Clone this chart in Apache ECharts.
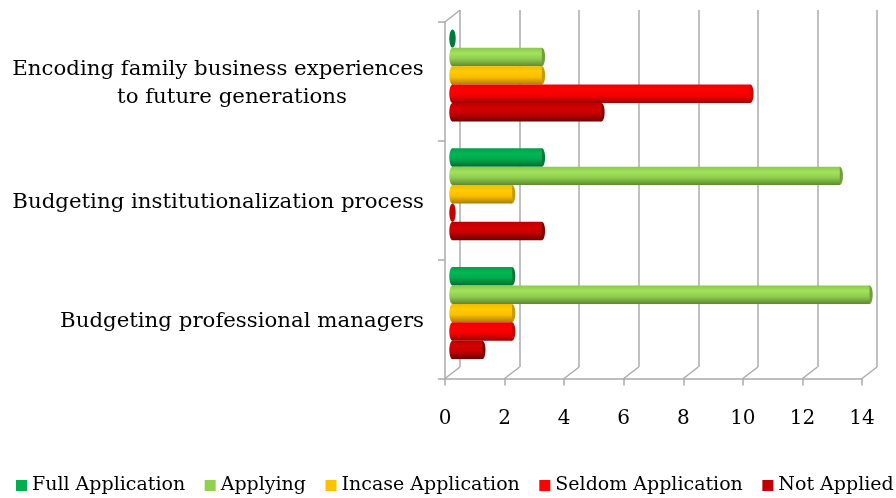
<!DOCTYPE html>
<html>
<head>
<meta charset="utf-8">
<style>html,body{margin:0;padding:0;background:#fff}#c{width:896px;height:498px}</style>
<script src="https://cdn.jsdelivr.net/npm/echarts@6/dist/echarts.min.js"></script>
</head>
<body>
<div id="c"></div>
<script>
const categories = ['Encoding family business experiences\nto future generations', 'Budgeting institutionalization process', 'Budgeting professional managers'];
const fullApplication = [0, 3, 2];
const applying = [3, 13, 14];
const incaseApplication = [3, 2, 2];
const seldomApplication = [10, 0, 2];
const notApplied = [5, 3, 1];
const xTicks = [0, 2, 4, 6, 8, 10, 12, 14];

const FONT = '"DejaVu Serif", serif';
const GRAY = '#ababab';
const DX = 15, DY = 11.5, BAR = 18.4, PITCH = 18.4;

const defs = [
  {name: 'Full Application', data: fullApplication, color: '#00B050', stops: ['#0a9a4a', '#00B854', '#00a84c', '#006e32'], cap: '#007a38'},
  {name: 'Applying', data: applying, color: '#92D050', stops: ['#8cc84c', '#a2e35c', '#8fcc4e', '#5c8a30'], cap: '#6f9f3c'},
  {name: 'Incase Application', data: incaseApplication, color: '#FFC000', stops: ['#f5b800', '#ffcc00', '#fbbd00', '#a87e00'], cap: '#c99a00'},
  {name: 'Seldom Application', data: seldomApplication, color: '#FF0000', stops: ['#f00000', '#ff0000', '#f50000', '#9c0000'], cap: '#c80000'},
  {name: 'Not Applied', data: notApplied, color: '#C00000', stops: ['#b80000', '#d60000', '#c40000', '#6e0000'], cap: '#800000'}
];
const grad = s => ({type: 'linear', x: 0, y: 0, x2: 0, y2: 1, colorStops: [
  {offset: 0, color: s[0]}, {offset: 0.3, color: s[1]}, {offset: 0.6, color: s[2]}, {offset: 1, color: s[3]}]});

const series = [];
series.push({
  type: 'custom', xAxisIndex: 0, yAxisIndex: 0, silent: true, z: 1,
  data: xTicks.map(v => [v]),
  encode: {x: 0},
  renderItem(params, api) {
    const cs = params.coordSys, v = api.value(0);
    const x = api.coord([v, 0])[0], b = cs.y + cs.height;
    const kids = [{type: 'line', shape: {x1: x, y1: b, x2: x + DX, y2: b - DY}, style: {stroke: GRAY, lineWidth: 1.5}}];
    if (v === 0) kids.push({type: 'line', shape: {x1: x, y1: cs.y, x2: x + DX, y2: cs.y - DY - 0.5}, style: {stroke: GRAY, lineWidth: 1.5}});
    return {type: 'group', children: kids};
  }
});
defs.forEach((d, i) => {
  series.push({
    name: d.name, type: 'bar', xAxisIndex: 1, yAxisIndex: 1, data: d.data, z: 3 + i,
    barWidth: BAR, barGap: 0, itemStyle: {color: grad(d.stops)}
  });
});
defs.forEach((d, i) => {
  series.push({
    name: d.name, type: 'custom', xAxisIndex: 1, yAxisIndex: 1, z: 3 + i, silent: true,
    data: d.data.map((v, c) => [v, c]),
    encode: {x: 0, y: 1},
    renderItem(params, api) {
      const v = api.value(0);
      const p = api.coord([v, api.value(1)]);
      const x0 = api.coord([0, api.value(1)])[0];
      const y = p[1] + (i - 2) * PITCH;
      const kids = [];
      if (v > 0) kids.push({type: 'ellipse', shape: {cx: x0, cy: y, rx: 3.2, ry: BAR / 2}, style: {fill: grad(d.stops)}});
      kids.push({type: 'ellipse', shape: {cx: p[0], cy: y, rx: 3.2, ry: BAR / 2}, style: {fill: d.cap}});
      return {type: 'group', children: kids};
    }
  });
});

const labelText = s => {
  const parts = s.split('\n');
  return parts.length > 1 ? '{a|' + parts[0] + '}\n{b|' + parts[1] + '}' : s;
};

const chart = echarts.init(document.getElementById('c'), null, {renderer: 'canvas'});
chart.setOption({
  animation: false,
  backgroundColor: '#fff',
  textStyle: {fontFamily: FONT},
  grid: [
    {left: 445, top: 22, width: 417, height: 356.5},
    {left: 452.5, top: 16, width: 417, height: 356.5},
    {left: 460, top: 10, width: 417, height: 357}
  ],
  legend: {
    left: 16, top: 476, padding: 0, itemWidth: 11, itemHeight: 11, itemGap: 19.5, icon: 'rect',
    textStyle: {fontFamily: FONT, fontSize: 19, color: '#000'},
    data: defs.map(d => ({name: d.name, itemStyle: {color: d.color}}))
  },
  xAxis: [
    {gridIndex: 0, type: 'value', min: 0, max: 14, interval: 2, splitLine: {show: false},
     axisLine: {show: true, lineStyle: {color: GRAY, width: 1.5}},
     axisTick: {show: true, length: 7, lineStyle: {color: GRAY, width: 1.5}},
     axisLabel: {show: true, fontFamily: FONT, fontSize: 20, color: '#000', margin: 30, formatter: v => String(v)}},
    {gridIndex: 1, type: 'value', min: 0, max: 14, interval: 2, show: false},
    {gridIndex: 2, type: 'value', min: 0, max: 14, interval: 2, axisLine: {show: false}, axisTick: {show: false}, axisLabel: {show: false},
     splitLine: {show: true, lineStyle: {color: GRAY, width: 1.5}}}
  ],
  yAxis: [
    {gridIndex: 0, type: 'category', inverse: true, data: categories,
     axisLine: {show: true, lineStyle: {color: GRAY, width: 1.5}},
     axisTick: {show: true, length: 7, lineStyle: {color: GRAY, width: 1.5}},
     axisLabel: {show: true, margin: 21, color: '#000', fontFamily: FONT, fontSize: 21.3, lineHeight: 28, align: 'right',
       padding: [4, 0, 0, 0],
       formatter: labelText,
       rich: {
         a: {fontFamily: FONT, fontSize: 21.3, color: '#000', lineHeight: 28, width: 412, align: 'center'},
         b: {fontFamily: FONT, fontSize: 21.3, color: '#000', lineHeight: 28, width: 384, align: 'center', padding: [0, 0, 0, 28]}
       }}},
    {gridIndex: 1, type: 'category', inverse: true, data: categories, show: false},
    {gridIndex: 2, type: 'value', min: 0, max: 1, show: false}
  ],
  series
});
</script>
</body>
</html>
